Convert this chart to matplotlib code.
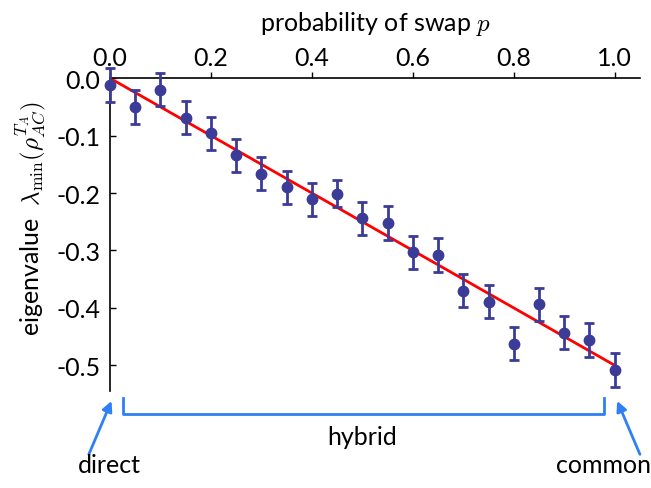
import numpy as np
import matplotlib
matplotlib.use("Agg")
import matplotlib.pyplot as plt

plt.rcParams['font.family'] = ['Lato', 'DejaVu Sans']
plt.rcParams['mathtext.fontset'] = 'cm'
plt.rcParams['axes.unicode_minus'] = False

# measured minimum eigenvalue of the partial transpose vs swap probability
p = [0.00, 0.05, 0.10, 0.15, 0.20, 0.25, 0.30, 0.35, 0.40, 0.45, 0.50,
     0.55, 0.60, 0.65, 0.70, 0.75, 0.80, 0.85, 0.90, 0.95, 1.00]
lam = [-0.012, -0.050, -0.020, -0.069, -0.096, -0.134, -0.166, -0.190,
       -0.211, -0.201, -0.244, -0.252, -0.303, -0.308, -0.370, -0.389,
       -0.462, -0.394, -0.443, -0.456, -0.508]
err = [0.029, 0.029, 0.029, 0.029, 0.029, 0.029, 0.028, 0.029, 0.029,
       0.024, 0.029, 0.029, 0.029, 0.029, 0.029, 0.029, 0.029, 0.029,
       0.029, 0.029, 0.029]

# theory line
p_th = [0.0, 1.0]
lam_th = [0.0, -0.5]

dot = '#3b3b98'
arrow_c = '#2f80f5'
fs = 18

fig = plt.figure(figsize=(6.51, 4.89), dpi=100)
ax = fig.add_axes([0.169, 0.198, 0.814, 0.640])

ax.plot(p_th, lam_th, color='red', lw=2, zorder=2)
ax.errorbar(p, lam, yerr=err, fmt='o', color=dot, ms=7.5, elinewidth=2,
            capsize=3.5, capthick=2, zorder=3, clip_on=False)

ax.set_xlim(0, 1.05)
ax.set_ylim(-0.545, 0)
ax.xaxis.tick_top()
ax.xaxis.set_label_position('top')
ax.set_xticks([0.0, 0.2, 0.4, 0.6, 0.8, 1.0])
ax.set_xticklabels(['0.0', '0.2', '0.4', '0.6', '0.8', '1.0'])
ax.set_yticks([0.0, -0.1, -0.2, -0.3, -0.4, -0.5])
ax.set_yticklabels(['0.0', '-0.1', '-0.2', '-0.3', '-0.4', '-0.5'])
ax.tick_params(axis='x', direction='out', length=4.3, width=1,
               labelsize=fs, pad=2)
ax.tick_params(axis='y', direction='in', length=4.3, width=1,
               labelsize=fs, pad=7)
for s in ['bottom', 'right']:
    ax.spines[s].set_visible(False)
for s in ['top', 'left']:
    ax.spines[s].set_linewidth(1.2)

ax.set_xlabel('probability of swap $p$', fontsize=fs, labelpad=12)
ax.set_ylabel(r'eigenvalue  $\lambda_{\min}(\rho_{AC}^{T_A})$', fontsize=fs)
ax.yaxis.set_label_coords(-0.117, 0.556)

# regime annotations below the axes
akw = dict(arrowstyle='-|>,head_length=0.6,head_width=0.3', color=arrow_c,
           lw=2, shrinkA=0, shrinkB=0)
ax.annotate('', xy=(0.003, -0.562), xytext=(-0.042, -0.655),
            arrowprops=akw, annotation_clip=False)
ax.annotate('', xy=(1.005, -0.562), xytext=(1.050, -0.655),
            arrowprops=akw, annotation_clip=False)
ax.plot([0.025, 0.025, 0.979, 0.979], [-0.557, -0.584, -0.584, -0.557],
        color=arrow_c, lw=2, clip_on=False)
ax.text(0.5, -0.624, 'hybrid', ha='center', va='center', fontsize=fs)
ax.text(-0.001, -0.672, 'direct', ha='center', va='center', fontsize=fs)
ax.text(0.978, -0.672, 'common', ha='center', va='center', fontsize=fs)

fig.savefig('out.png', dpi=100)
